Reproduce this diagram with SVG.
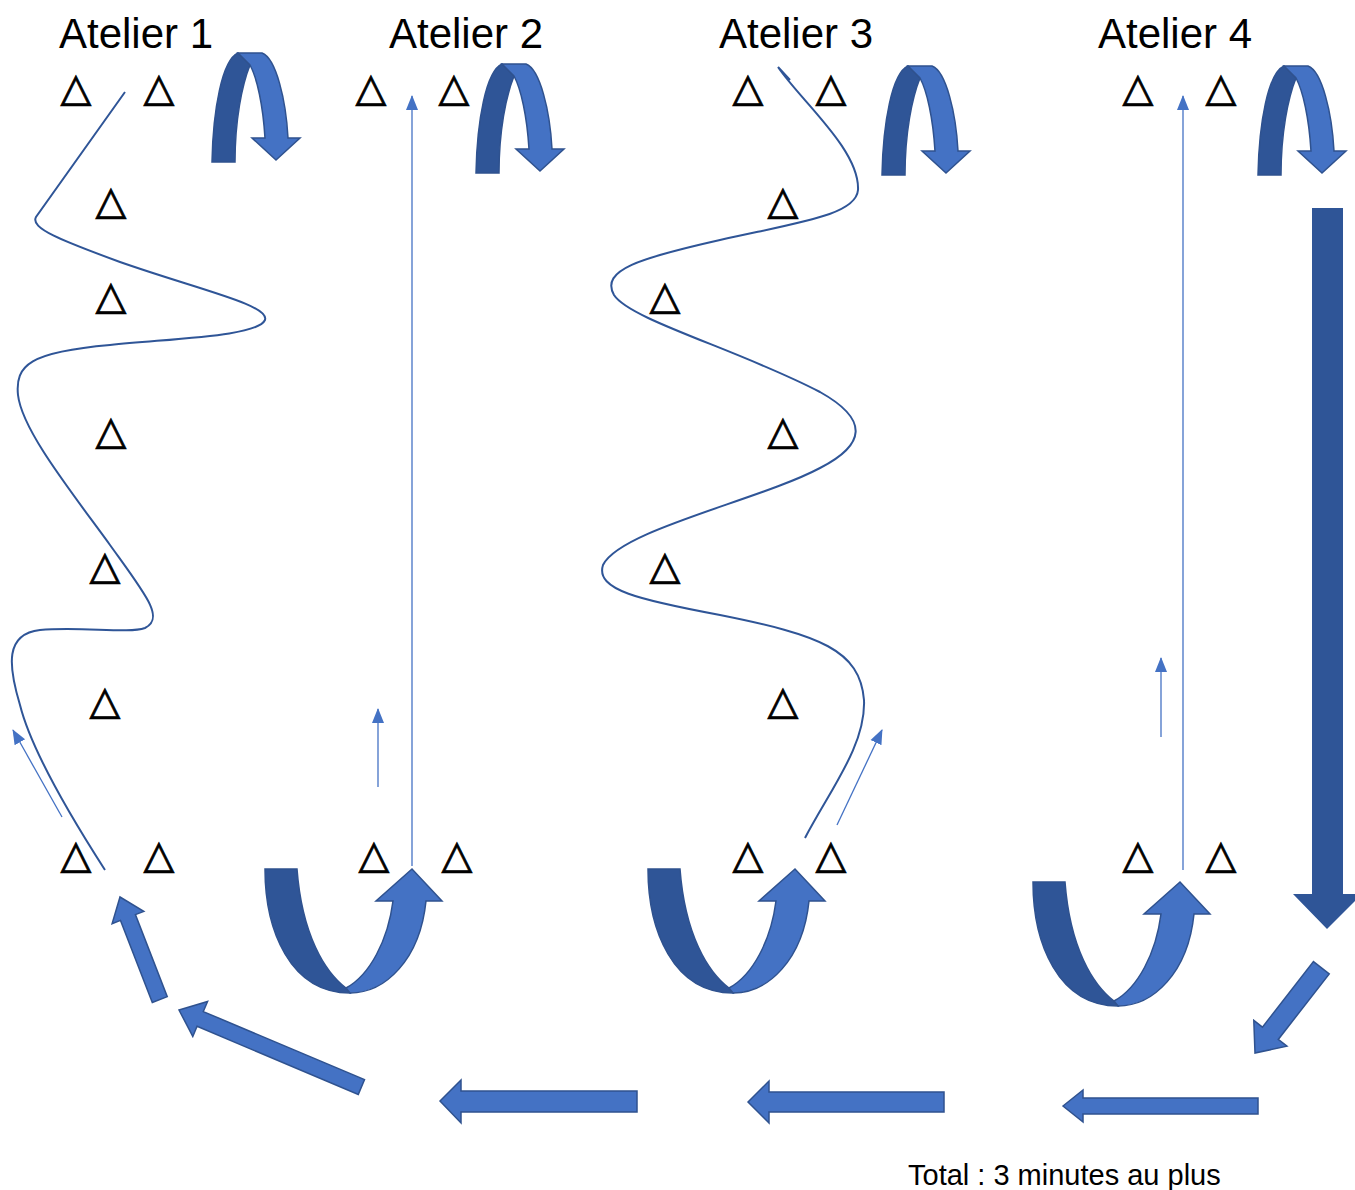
<svg xmlns="http://www.w3.org/2000/svg" xmlns:xlink="http://www.w3.org/1999/xlink" width="1355" height="1190" viewBox="0 0 1355 1190">
<style>
.title{font-family:"Liberation Sans",Arial,sans-serif;font-size:42px;fill:#000;text-anchor:middle}
.note{font-family:"Liberation Sans",Arial,sans-serif;font-size:29px;fill:#000}
.tri{font-family:"DejaVu Sans",sans-serif;font-size:40px;fill:#000;stroke:#000;stroke-width:0.8;text-anchor:middle}
.wave{fill:none;stroke:#2F5597;stroke-width:2}
.thin{fill:none;stroke:#4472C4;stroke-width:1.3}
.light{fill:#4472C4;stroke:#2F528F;stroke-width:1.5;stroke-linejoin:miter}
.dark{fill:#2F5597;stroke:#2F528F;stroke-width:1.5}
</style>
<defs>
<marker id="ah" markerUnits="userSpaceOnUse" markerWidth="16" markerHeight="16" viewBox="0 0 16 16" refX="14" refY="8" orient="auto">
<path d="M0,2 L15,8 L0,14 Z" fill="#4472C4"/>
</marker>
<g id="curlTop">
<path class="dark" d="M212,162 C213,110 222,60 238,53 L250,65 C242,85 235,120 235,162 Z"/>
<path class="light" d="M238,53 L262,53 C276,58 286,100 288,138 L300,138 L276,160 L252,138 L265,138 C263,105 257,78 250,65 Z"/>
</g>
<g id="uTurn">
<path class="dark" d="M265,869 L297,869 C302,935 325,972 346,988 L350,993 C290,993 265,930 265,869 Z"/>
<path class="light" d="M346,988 C370,975 388,940 393,901 L376,901 L412,869 L442,901 L426,901 C420,960 385,993 350,993 Z"/>
</g>
</defs>

<g id="titles">
<text class="title" x="136" y="48">Atelier 1</text>
<text class="title" x="466" y="48">Atelier 2</text>
<text class="title" x="796" y="48">Atelier 3</text>
<text class="title" x="1175" y="48">Atelier 4</text>
</g>

<g id="cones">
<text class="tri" x="76" y="101">△</text>
<text class="tri" x="159" y="101">△</text>
<text class="tri" x="371" y="101">△</text>
<text class="tri" x="454" y="101">△</text>
<text class="tri" x="748" y="101">△</text>
<text class="tri" x="831" y="101">△</text>
<text class="tri" x="1138" y="101">△</text>
<text class="tri" x="1221" y="101">△</text>
<text class="tri" x="111" y="214">△</text>
<text class="tri" x="111" y="309">△</text>
<text class="tri" x="111" y="444">△</text>
<text class="tri" x="105" y="579">△</text>
<text class="tri" x="105" y="714">△</text>
<text class="tri" x="783" y="214">△</text>
<text class="tri" x="665" y="309">△</text>
<text class="tri" x="783" y="444">△</text>
<text class="tri" x="665" y="579">△</text>
<text class="tri" x="783" y="714">△</text>
<text class="tri" x="76" y="868">△</text>
<text class="tri" x="159" y="868">△</text>
<text class="tri" x="374" y="868">△</text>
<text class="tri" x="457" y="868">△</text>
<text class="tri" x="748" y="868">△</text>
<text class="tri" x="831" y="868">△</text>
<text class="tri" x="1138" y="868">△</text>
<text class="tri" x="1221" y="868">△</text>
</g>

<g id="connectors">
<path id="wave1" class="wave" d="M125,92 L36,217 C30,228 60,240 120,262 C200,290 270,305 265,320 C258,336 180,338 110,345 C30,352 15,365 18,395 C22,430 70,490 110,545 C146,595 165,618 145,628 C128,634 80,626 40,630 C5,634 8,665 20,705 C30,745 60,800 105,870"/>
<path id="wave3" class="wave" d="M778,67 L790,80 M778,67 C800,100 860,150 858,190 C856,215 800,222 720,240 C640,258 600,270 614,295 C630,320 740,350 820,392 C870,420 865,445 820,468 C760,500 620,530 603,565 C595,590 640,600 720,615 C820,635 860,650 864,700 C866,745 830,790 805,838"/>
<path id="line2" class="thin" d="M412,866 L412,96" marker-end="url(#ah)"/>
<path id="line4" class="thin" d="M1183,870 L1183,96" marker-end="url(#ah)"/>
<path id="small1" class="thin" d="M62,817 L13,730" marker-end="url(#ah)"/>
<path id="small2" class="thin" d="M378,787 L378,709" marker-end="url(#ah)"/>
<path id="small3" class="thin" d="M837,825 L882,730" marker-end="url(#ah)"/>
<path id="small4" class="thin" d="M1161,737 L1161,658" marker-end="url(#ah)"/>
</g>

<g id="turns">
<use href="#curlTop"/>
<use href="#curlTop" transform="translate(264,11)"/>
<use href="#curlTop" transform="translate(670,13)"/>
<use href="#curlTop" transform="translate(1046,13)"/>
<use href="#uTurn"/>
<use href="#uTurn" transform="translate(383,0)"/>
<use href="#uTurn" transform="translate(768,13)"/>
</g>

<g id="return-path">
<path id="bigDown" fill="#2F5597" d="M1312,208 L1343,208 L1343,894 L1362,894 L1327,929 L1293,894 L1312,894 Z"/>
<path id="diagRight" class="light" transform="translate(1255,1053) rotate(-52.1)" d="M0,0 L25,-21 L25,-10 L108,-10 L108,10 L25,10 L25,21 Z"/>
<path id="h1" class="light" d="M1063,1106 L1083,1090 L1083,1098 L1258,1098 L1258,1114 L1083,1114 L1083,1122 Z"/>
<path id="h2" class="light" d="M748,1102 L769,1081 L769,1092 L944,1092 L944,1112 L769,1112 L769,1123 Z"/>
<path id="h3" class="light" d="M440,1101 L461,1080 L461,1091 L637,1091 L637,1112 L461,1112 L461,1123 Z"/>
<path id="diagBig" class="light" transform="translate(179,1010) rotate(22.9)" d="M0,0 L23,-19 L23,-8 L198,-8 L198,8 L23,8 L23,19 Z"/>
<path id="diagSmall" class="light" transform="translate(120,897) rotate(68.8)" d="M0,0 L22,-17 L22,-8 L110,-8 L110,8 L22,8 L22,17 Z"/>
</g>

<text class="note" x="908" y="1185">Total : 3 minutes au plus</text>
</svg>
